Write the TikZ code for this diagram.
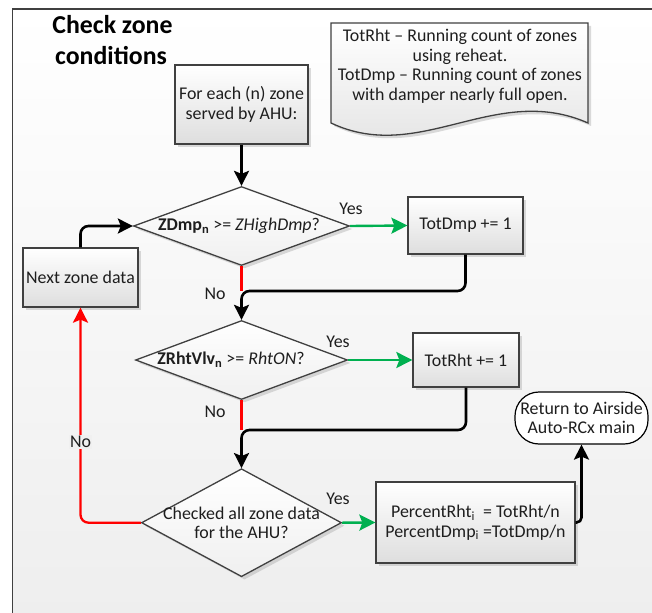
\documentclass[tikz,border=0pt]{standalone}
\usepackage{fontspec}
\setmainfont{Carlito}
\usetikzlibrary{shapes.geometric,arrows.meta,shadows}

\definecolor{edge}{HTML}{404040}
\definecolor{ink}{HTML}{1E1E1E}
\definecolor{yesgreen}{HTML}{00B050}
\definecolor{nored}{HTML}{FF0000}
\definecolor{panel}{HTML}{EEEEEE}

\begin{document}
\begin{tikzpicture}[x=1pt,y=-1pt,
  font=\fontsize{17.9}{19.5}\selectfont,
  every node/.style={text=ink},
  softshadow/.style={drop shadow={shadow xshift=3pt,shadow yshift=-3pt,fill=black!40,opacity=.35}},
  procbox/.style={rectangle, draw=edge, line width=1.3pt, top color=white, bottom color=black!13,
    softshadow, inner sep=0pt, align=center},
  decision/.style={diamond, draw=edge, line width=1.3pt, top color=white, bottom color=black!6,
    softshadow, inner sep=0pt},
  terminal/.style={rectangle, rounded corners=24pt, draw=black, line width=1.2pt, fill=white,
    inner sep=0pt, align=center},
  flow/.style={draw=black, line width=2.6pt, -{Stealth[length=15pt,width=15pt,inset=3pt]}},
  yesflow/.style={draw=yesgreen, line width=2.4pt, -{Stealth[length=16pt,width=16pt,inset=3pt]}},
  noline/.style={draw=nored, line width=2.3pt},
  noflow/.style={noline, -{Stealth[length=15pt,width=15pt,inset=3pt]}},
]
\useasboundingbox (0,0) rectangle (652,612);

% panel background and frame
\shade[top color=white, bottom color=panel] (12.7,9) rectangle (660,620);
\draw[edge, line width=1.5pt] (12.7,620) -- (12.7,9) -- (660,9);

% title
\node[font=\bfseries\fontsize{25.8}{31.7}\selectfont, text=black, anchor=base] (title1) at (112.5,33.3) {Check zone};
\node[font=\bfseries\fontsize{25.8}{31.7}\selectfont, text=black, anchor=base] (title2) at (111,65) {conditions};

% legend note with wavy lower edge
\begin{scope}[shift={(3,3)}]
  \fill[black!40, opacity=.35] (331,23) -- (588,23) -- (588,123)
    .. controls (495,82) and (420,165) .. (331,123) -- cycle;
\end{scope}
\path[draw=edge, line width=1.3pt, top color=white, bottom color=black!12]
  (331,23) -- (588,23) -- (588,123) .. controls (495,82) and (420,165) .. (331,123) -- cycle;
\node[align=center] (legend) at (460,66)
  {TotRht – Running count of zones\\using reheat.\\TotDmp – Running count of zones\\with damper nearly full open.};

% process steps and decisions
\node[procbox, minimum width=133pt, minimum height=79pt] (start) at (241.5,104.5) {For each (n) zone\\served by AHU:};
\node[decision, minimum width=216pt, minimum height=79pt] (qdmp) at (241.5,226) {};
\node (qdmptxt) at (239,226) {\textbf{ZDmp\textsubscript{n}} >= \textit{ZHighDmp}?};
\node[procbox, minimum width=115pt, minimum height=57pt] (incdmp) at (465.5,225.5) {TotDmp += 1};
\node[procbox, minimum width=115pt, minimum height=59pt] (nextzone) at (80.5,277.5) {Next zone data};
\node[decision, minimum width=212pt, minimum height=79pt] (qrht) at (241.5,360) {};
\node (qrhttxt) at (231,360) {\textbf{ZRhtVlv\textsubscript{n}} >= \textit{RhtON}?};
\node[procbox, minimum width=106pt, minimum height=54pt] (incrht) at (466,360) {TotRht += 1};
\node[decision, minimum width=200pt, minimum height=108pt] (qall) at (241.5,522.7) {};
\node[align=center] (qalltxt) at (241.5,523) {Checked all zone data\\for the AHU?};
\node[procbox, minimum width=199pt, minimum height=81pt] (pct) at (475.5,522.5)
  {PercentRht\textsubscript{i}\ \ = TotRht/n\\PercentDmp\textsubscript{i} =TotDmp/n};
\node[terminal, minimum width=133pt, minimum height=52pt] (ret) at (581.5,418) {Return to Airside\\Auto-RCx main};

% junctions where the branches merge
\coordinate (j1) at (241.5,291);
\coordinate (j2) at (241.5,430);

% connectors
\draw[flow] (start.south) -- (qdmp.north);
\draw[yesflow] (qdmp.east) -- (incdmp.west);
\draw[noline] (qdmp.south) -- (j1);
\draw[flow, rounded corners=8pt] (incdmp.south) |- (j1) -- (qrht.north);
\draw[yesflow] (qrht.east) -- (incrht.west);
\draw[noline] (qrht.south) -- (j2);
\draw[flow, rounded corners=8pt] (incrht.south) |- (j2) -- (qall.north);
\draw[yesflow] (qall.east) -- (pct.west);
\draw[noflow, rounded corners=8pt] (qall.west) -| (nextzone.south);
\draw[flow, rounded corners=8pt] (nextzone.north) |- (qdmp.west);
\draw[flow, rounded corners=5pt] (pct.east) -| (ret.south);

% branch labels
\node (yes1) at (351,209) {Yes};
\node (no1) at (215,294) {No};
\node (yes2) at (338,342) {Yes};
\node (no2) at (215,412) {No};
\node (yes3) at (338,499) {Yes};
\node[fill=black!6, inner sep=1.5pt] (no3) at (80.5,442) {No};
\end{tikzpicture}
\end{document}
